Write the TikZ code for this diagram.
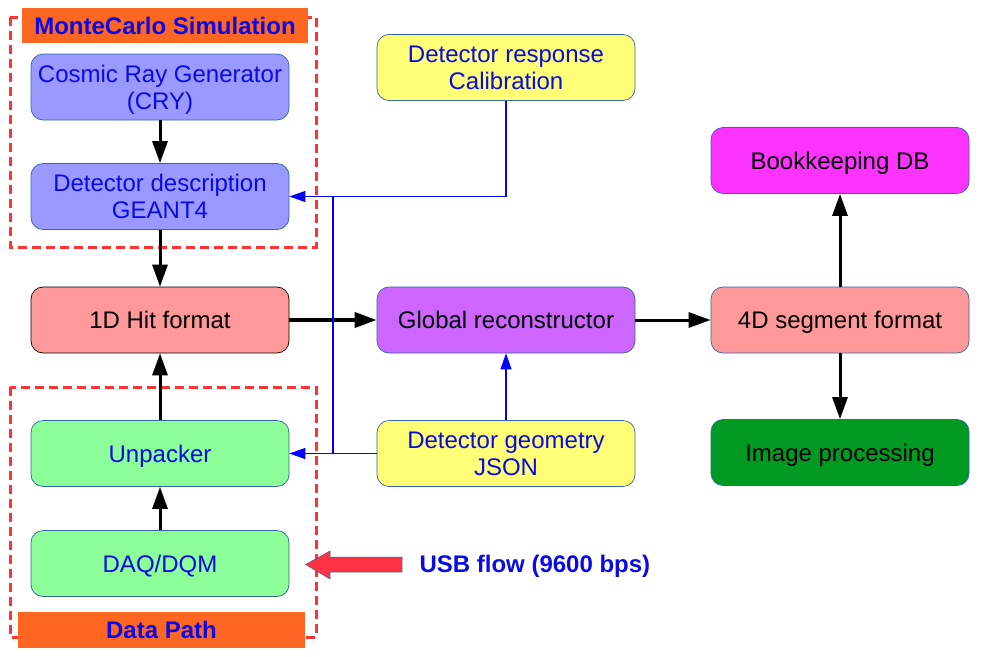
\documentclass[tikz,border=0pt]{standalone}
\usepackage{fontspec}
\setmainfont{Liberation Sans}
\usetikzlibrary{arrows.meta}

\definecolor{boxedge}{HTML}{3465A4}
\definecolor{mcfill}{HTML}{9999FF}
\definecolor{hitfill}{HTML}{FF9999}
\definecolor{daqfill}{HTML}{8CFF99}
\definecolor{calfill}{HTML}{FFFF77}
\definecolor{recofill}{HTML}{CC66FF}
\definecolor{dbfill}{HTML}{FF33FF}
\definecolor{imgfill}{HTML}{009922}
\definecolor{titlefill}{HTML}{FF6622}
\definecolor{groupred}{HTML}{FF3333}
\definecolor{usbred}{HTML}{FF3344}
\definecolor{labelblue}{HTML}{0A0AE6}

\begin{document}
\begin{tikzpicture}[x=1pt,y=-1pt,
  box/.style={draw=boxedge,line width=0.7pt,rounded corners=12pt,
    minimum width=258pt,minimum height=66pt,align=center,text depth=0pt,
    font=\fontsize{24}{27}\selectfont},
  bluetext/.style={text=labelblue},
  title/.style={fill=titlefill,minimum height=35pt,text=labelblue,
    font=\fontsize{24}{27}\selectfont\bfseries},
  group/.style={draw=groupred,line width=3pt,dash pattern=on 9pt off 5pt},
  flow/.style={-{Triangle[length=22pt,width=15pt]},line width=3pt},
  feed/.style={-{Triangle[length=16pt,width=11pt]},draw=blue,line width=1.1pt}]
  \useasboundingbox (0,0) rectangle (984,656);

  % dashed groups
  \draw[group] (10,17) rectangle (316,247);
  \draw[group] (10,387) rectangle (316,637);
  \node[title,minimum width=286pt] (mctitle) at (165,25.5) {MonteCarlo Simulation};
  \node[title,minimum width=287pt,minimum height=36pt] (dptitle) at (161.5,630) {Data Path};

  % left column
  \node[box,bluetext,fill=mcfill] (cry) at (160,87) {Cosmic Ray Generator\\(CRY)};
  \node[box,bluetext,fill=mcfill] (geant) at (160,196.5) {Detector description\\GEANT4};
  \node[box,fill=hitfill,draw=black] (hit) at (160,320) {1D Hit format};
  \node[box,bluetext,fill=daqfill] (unpack) at (160,453.5) {Unpacker};
  \node[box,bluetext,fill=daqfill] (daq) at (160,563.5) {DAQ/DQM};

  % middle column
  \node[box,bluetext,fill=calfill] (calib) at (506,67.5) {Detector response\\Calibration};
  \node[box,fill=recofill] (reco) at (506,320) {Global reconstructor};
  \node[box,bluetext,fill=calfill] (geom) at (506,453.5) {Detector geometry\\JSON};

  % right column
  \node[box,fill=dbfill] (db) at (840,160.5) {Bookkeeping DB};
  \node[box,fill=hitfill] (seg) at (840,320) {4D segment format};
  \node[box,fill=imgfill] (img) at (840,452.5) {Image processing};

  % main data flow
  \draw[flow] (cry) -- (geant);
  \draw[flow] (geant) -- (hit);
  \draw[flow] (daq) -- (unpack);
  \draw[flow] (unpack) -- (hit);
  \draw[flow,line width=4pt] (hit) -- (reco);
  \draw[flow] (reco) -- (seg);
  \draw[flow] (seg) -- (db);
  \draw[flow] (seg) -- (img);

  % calibration and geometry feeds
  \coordinate (jtop) at (333,196.5);
  \coordinate (jbot) at (333,453.5);
  \draw[feed] (calib.south) |- (geant.east);
  \draw[feed] (geom.west) -- (unpack.east);
  \draw[blue,line width=1.1pt] (jtop) -- (jbot);
  \draw[feed] (geom) -- (reco);

  % USB input
  \node[anchor=west,text=labelblue,font=\fontsize{24}{27}\selectfont\bfseries]
    (usb) at (416,566) {USB flow (9600 bps)};
  \draw[fill=usbred,draw=boxedge,line width=0.5pt]
    (402,557) -- (330,557) -- (330,551) -- (305.5,564.5) -- (330,579)
    -- (330,572) -- (402,572) -- cycle;
\end{tikzpicture}
\end{document}
